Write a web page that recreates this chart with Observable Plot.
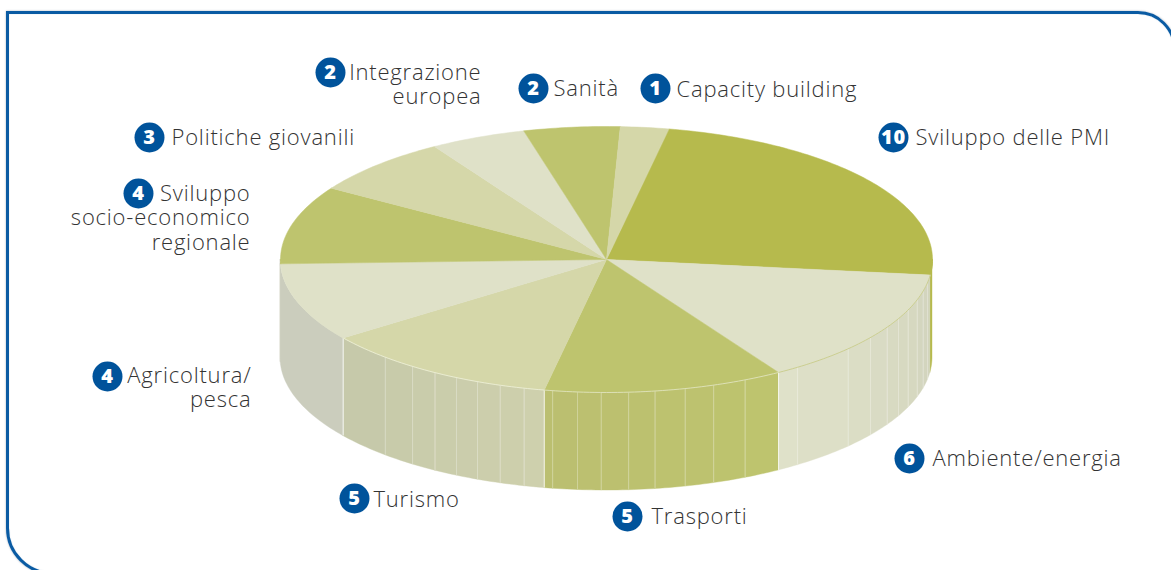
<!DOCTYPE html>
<html><head><meta charset="utf-8">
<script src="https://cdn.jsdelivr.net/npm/d3@7"></script>
<script src="https://cdn.jsdelivr.net/npm/@observablehq/plot@0.6"></script>
<style>
html,body{margin:0;padding:0;background:#fff;overflow:hidden}
#page{position:relative;width:1171px;height:570px;overflow:hidden}
#frame{position:absolute;left:6px;top:11px;width:1170px;height:564px;box-sizing:border-box;border:3px solid #0a5ba3;
 border-radius:0 38px 0 47px;box-shadow:0 0 2px rgba(40,60,90,.45), inset 0 0 1px rgba(10,91,163,.35)}
#chart{position:absolute;left:0;top:0}
</style></head><body>
<div id="page"><div id="frame"></div><div id="chart"></div></div>
<script>
// Data, clockwise from the start of the largest slice
const names = [["Sviluppo delle PMI"],["Ambiente/energia"],["Trasporti"],["Turismo"],["Agricoltura/","pesca"],["Sviluppo","socio-economico","regionale"],["Politiche giovanili"],["Integrazione","europea"],["Sanità"],["Capacity building"]];
const values = [10,6,5,5,4,4,3,2,2,1];
const topColors = ["#b6ba4d","#dfe1c8","#bec46e","#d5d7a9","#dfe1c8","#bec46e","#d5d7a9","#dfe1c8","#bec46e","#d5d7a9"];
const sideFrom = ["#b6ba4d","#d2d4bd","#bec46e","#ced0ad","#cbcdbd","#cbcdbd","#d5d7a9","#dfe1c8","#bec46e","#d5d7a9"];
const sideTo   = ["#b6ba4d","#e0e2ca","#bbbf70","#c5c8a9","#cbcdbd","#cbcdbd","#d5d7a9","#dfe1c8","#bec46e","#d5d7a9"];
const rimColors = ["#b6ba4d","#c8cc8a","#e0e3bd","#eceed6","#dfe1c8","#bec46e","#d5d7a9","#dfe1c8","#bec46e","#d5d7a9"];

// Layout of the tilted disc
const cx = 606, cy = 259, rx = 326, ry = 133, depth = 98, startDeg = 11;
// Angles (degrees round the rim) of the pale facet seams on the side wall
const seamAngles = [100,103.6,107.5,112.2,116.4,120.5,125.9,132.1,144.1, 154.8,160.8,166,171.4,176.1,180.9,185.1,189.5, 194.6,199,203.3,207.4,211.7,216.5,222.7];

// Label anchors (first line of each label)
const labelX = [915,932,651,373,251,250,171,481,553,676];
const labelY = [137,458,516,499,375,193,137,72,88,89];
const labelAnchor = ["start","start","start","start","end","end","start","end","start","start"];
const lineStep = 24.5;
const badgeX = [893,909,627,354,107,138,149,330,533,655];
const badgeY = [137,458,516,498,376,193,137,72,88,88];

const total = d3.sum(values);
const px = d => cx + rx * Math.sin(d * Math.PI / 180);
const py = d => cy - ry * Math.cos(d * Math.PI / 180);
const cum = d3.cumsum(values);
const slices = values.map((v, i) => ({
  i, from: startDeg + (i ? cum[i - 1] : 0) / total * 360, to: startDeg + cum[i] / total * 360
}));
const whiteSeams = slices.map(s => s.from).filter(t => t > 140 && t < 250);
const arc = (a, b) => { const n = Math.max(2, Math.ceil(Math.abs(b - a))); return d3.range(n + 1).map(k => a + (b - a) * k / n); };

const marks = [];
// Side wall: each slice is cut into facets at the seams
for (const s of slices) {
  const a = Math.max(s.from, 90), b = Math.min(s.to, 270);
  if (b <= a) continue;
  const cuts = [a, ...seamAngles.filter(t => t > a && t < b), b];
  const col = d3.interpolateRgb(sideFrom[s.i], sideTo[s.i]);
  d3.pairs(cuts).forEach(([p, q]) => {
    const u = ((p + q) / 2 - a) / (b - a);
    marks.push(Plot.areaY(arc(p, q), {x: px, y1: py, y2: d => py(d) + depth, fill: col(u), stroke: col(u), strokeWidth: 0.4}));
  });
}
// Seams
marks.push(Plot.ruleX(seamAngles, {x: px, y1: py, y2: d => py(d) + depth, stroke: "#ffffff", strokeOpacity: 0.3, strokeWidth: 1}));
marks.push(Plot.ruleX(whiteSeams, {x: px, y1: py, y2: d => py(d) + depth, stroke: "#ffffff", strokeOpacity: 0.8, strokeWidth: 1}));
// Top face
for (const s of slices) {
  const pts = [null, ...arc(s.from, s.to)];
  marks.push(Plot.line(pts, {
    x: d => d === null ? cx : px(d), y: d => d === null ? cy : py(d),
    curve: "linear-closed", fill: topColors[s.i], stroke: topColors[s.i], strokeWidth: 0.5
  }));
  const a = Math.max(s.from, 90), b = Math.min(s.to, 270);
  if (b > a) marks.push(Plot.line(arc(a, b), {x: px, y: py, stroke: rimColors[s.i], strokeWidth: 0.9}));
}
// Labels: one text per line, so the badge sits beside the first line only
const lines = names.flatMap((ls, i) => ls.map((t, k) => ({t, i, k})));
for (const anchor of ["start", "end"]) {
  marks.push(Plot.text(lines.filter(d => labelAnchor[d.i] === anchor), {
    x: d => labelX[d.i], y: d => labelY[d.i] + d.k * lineStep, text: "t", textAnchor: anchor,
    fill: "#333333", fontSize: 22, fontWeight: 300, fontFamily: "Open Sans"
  }));
}
marks.push(Plot.dot(values, {x: (d, i) => badgeX[i], y: (d, i) => badgeY[i], r: 15, fill: "#00539b", stroke: "none"}));
marks.push(Plot.text(values, {
  x: (d, i) => badgeX[i], y: (d, i) => badgeY[i], text: d => String(d),
  fill: "#ffffff", fontSize: 20, fontWeight: 800, fontFamily: "Open Sans"
}));

const chart = Plot.plot({
  width: 1171, height: 570, margin: 0,
  x: {domain: [0, 1171], range: [0, 1171], axis: null},
  y: {domain: [0, 570], range: [0, 570], axis: null},
  style: {background: "transparent", letterSpacing: "0.8px"},
  marks
});
document.getElementById("chart").append(chart);
</script>
</body></html>
